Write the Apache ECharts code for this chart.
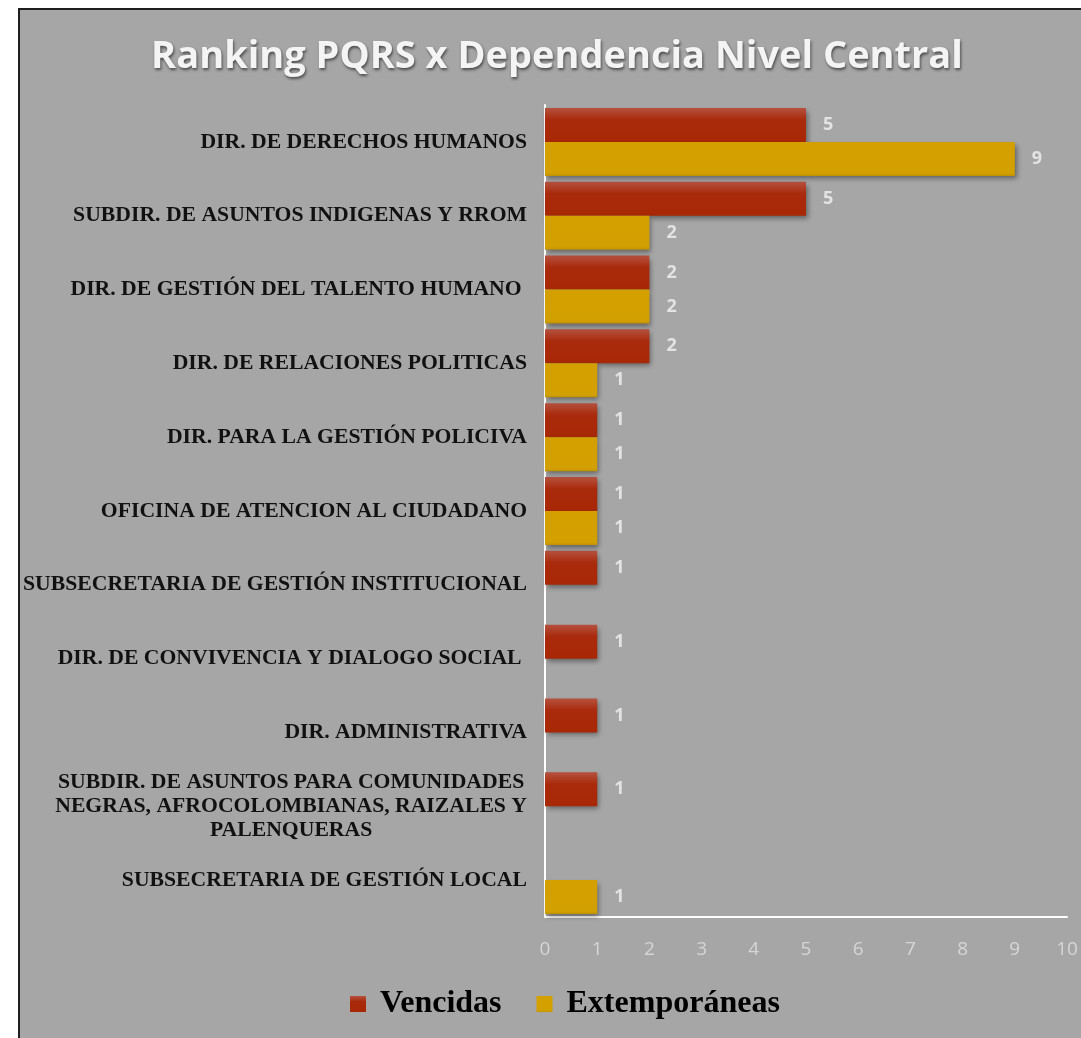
<!DOCTYPE html>
<html><head><meta charset="utf-8">
<script src="https://cdn.jsdelivr.net/npm/echarts@6/dist/echarts.min.js"></script>
<style>html,body{margin:0;padding:0;background:#fff;}#c{width:1081px;height:1038px;}</style>
</head><body><div id="c"></div>
<script>
const categories = [
  'DIR. DE DERECHOS HUMANOS',
  'SUBDIR. DE ASUNTOS INDIGENAS Y RROM',
  'DIR. DE GESTIÓN DEL TALENTO HUMANO ',
  'DIR. DE RELACIONES POLITICAS',
  'DIR. PARA LA GESTIÓN POLICIVA',
  'OFICINA DE ATENCION AL CIUDADANO',
  'SUBSECRETARIA DE GESTIÓN INSTITUCIONAL',
  'DIR. DE CONVIVENCIA Y DIALOGO SOCIAL ',
  'DIR. ADMINISTRATIVA',
  'SUBDIR. DE ASUNTOS PARA COMUNIDADES\nNEGRAS, AFROCOLOMBIANAS, RAIZALES Y\nPALENQUERAS',
  'SUBSECRETARIA DE GESTIÓN LOCAL'
];
const vencidas = [5, 5, 2, 2, 1, 1, 1, 1, 1, 1, null];
const extemporaneas = [9, 2, 2, 1, 1, 1, null, null, null, null, 1];
const xTicks = [0, 10, 1];

const chart = echarts.init(document.getElementById('c'));
const labelStyle = {show: true, position: 'right', distance: 17, color: '#e3e3e3', fontFamily: 'Open Sans', fontWeight: 'bold', fontSize: 18};
chart.setOption({
  backgroundColor: '#ffffff',
  animation: false,
  graphic: [{type: 'rect', z: -10, shape: {x: 19, y: 9, width: 1100, height: 1100}, style: {fill: '#a6a6a6', stroke: '#1e1e1e', lineWidth: 2}}],
  title: {
    text: 'Ranking PQRS x Dependencia Nivel Central',
    left: 552, top: 33, textAlign: 'center',
    textStyle: {color: '#f4f4f4', fontFamily: 'Open Sans', fontWeight: 'bold', fontSize: 38,
      textShadowColor: 'rgba(0,0,0,0.55)', textShadowBlur: 3, textShadowOffsetX: 1, textShadowOffsetY: 2}
  },
  legend: {
    left: 345, top: 983, itemWidth: 16, itemHeight: 16, icon: 'rect', itemGap: 35,
    textStyle: {color: '#000', fontFamily: 'Liberation Serif', fontWeight: 'bold', fontSize: 32, padding: [0, 0, 0, 9]}
  },
  grid: {left: 545, right: 14, top: 105, bottom: 121, containLabel: false},
  xAxis: {
    type: 'value', min: xTicks[0], max: xTicks[1], interval: xTicks[2],
    axisLine: {show: true, lineStyle: {color: '#ffffff', width: 2}},
    axisTick: {show: false}, splitLine: {show: false},
    axisLabel: {color: '#d6d6d6', fontFamily: 'Open Sans', fontSize: 19, margin: 23}
  },
  yAxis: {
    type: 'category', data: categories, inverse: true,
    axisLine: {show: true, lineStyle: {color: '#ffffff', width: 2}},
    axisTick: {show: false},
    axisLabel: {
      margin: 18, align: 'right',
      formatter: function (v) { return v.split('\n').map(function (l) { return '{c|' + l + '}'; }).join('\n'); },
      rich: {c: {align: 'center', color: '#111', fontFamily: 'Liberation Serif', fontWeight: 'bold', fontSize: 21.7, lineHeight: 24}}
    }
  },
  series: [
    {name: 'Vencidas', type: 'bar', data: vencidas, barWidth: 34, barGap: '0%',
     itemStyle: {color: new echarts.graphic.LinearGradient(0,0,0,1,[{offset:0,color:'#b5523f'},{offset:0.35,color:'#a92a0c'},{offset:1,color:'#a82805'}]),
       shadowColor: 'rgba(0,0,0,0.4)', shadowBlur: 5, shadowOffsetX: 2, shadowOffsetY: 3},
     label: labelStyle},
    {name: 'Extemporáneas', type: 'bar', data: extemporaneas, barWidth: 34,
     itemStyle: {color: new echarts.graphic.LinearGradient(0,0,0,1,[{offset:0,color:'#d4a000'},{offset:0.92,color:'#d2a000'},{offset:1,color:'#c09000'}]),
       shadowColor: 'rgba(0,0,0,0.4)', shadowBlur: 5, shadowOffsetX: 2, shadowOffsetY: 3},
     label: labelStyle}
  ]
});
</script></body></html>
